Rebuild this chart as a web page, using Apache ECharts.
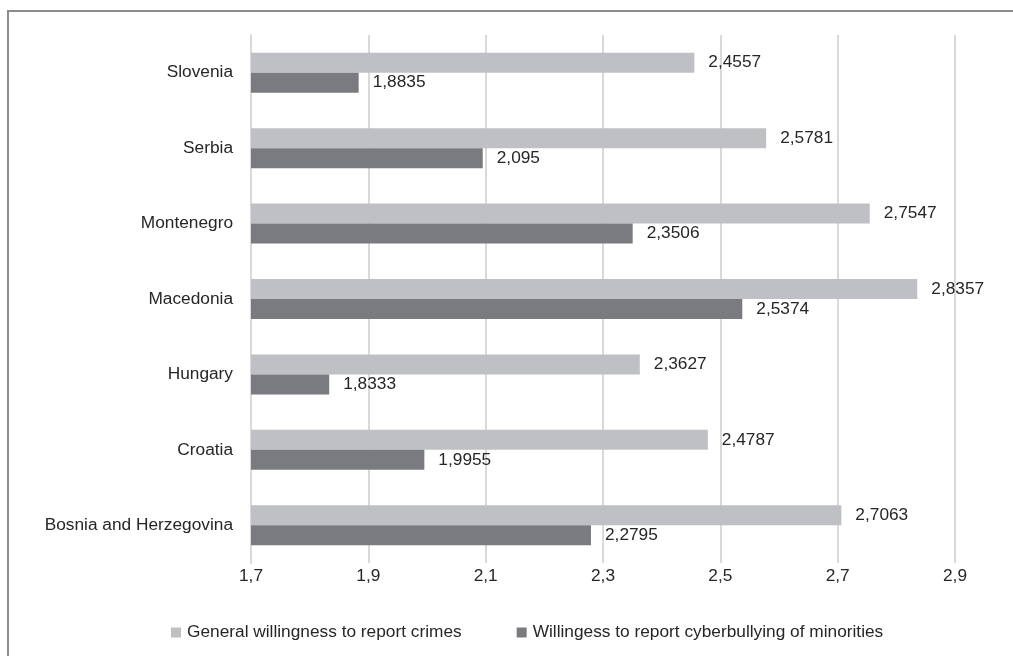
<!DOCTYPE html>
<html>
<head>
<meta charset="utf-8">
<script src="https://cdn.jsdelivr.net/npm/echarts@6/dist/echarts.min.js"></script>
<style>
  html, body { margin: 0; padding: 0; background: #fff; }
  #chart { width: 1013px; height: 656px; }
</style>
</head>
<body>
<div id="chart"></div>
<script>
// Countries, bottom to top on the category axis
const countries = ['Bosnia and Herzegovina', 'Croatia', 'Hungary', 'Macedonia', 'Montenegro', 'Serbia', 'Slovenia'];
const generalWillingness = [2.7063, 2.4787, 2.3627, 2.8357, 2.7547, 2.5781, 2.4557];
const cyberbullyingWillingness = [2.2795, 1.9955, 1.8333, 2.5374, 2.3506, 2.095, 1.8835];
const seriesNames = ['General willingness to report crimes', 'Willingess to report cyberbullying of minorities'];
const axisMin = 1.7, axisMax = 2.9, axisStep = 0.2;

const FONT = '"Liberation Sans", Arial, sans-serif';
const FS = 17.3;
const TXT = '#262626';
const comma = v => String(v).replace('.', ',');

const chart = echarts.init(document.getElementById('chart'), null, { renderer: 'canvas' });

chart.setOption({
  animation: false,
  backgroundColor: '#ffffff',
  textStyle: { fontFamily: FONT },
  graphic: [{
    type: 'rect',
    shape: { x: 8, y: 11, width: 1100, height: 700 },
    style: { fill: 'none', stroke: '#8c8c8c', lineWidth: 2 },
    silent: true
  }],
  grid: { left: 251, right: 58, top: 35, bottom: 93 },
  legend: {
    bottom: 10,
    left: 166,
    itemWidth: 10,
    itemHeight: 10,
    itemGap: 55,
    icon: 'rect',
    textStyle: { fontFamily: FONT, fontSize: FS, color: TXT, padding: [0, 0, 0, 1] },
    data: seriesNames
  },
  xAxis: {
    type: 'value',
    min: axisMin,
    max: axisMax,
    interval: axisStep,
    axisLine: { show: false },
    axisTick: { show: false },
    splitLine: { show: true, lineStyle: { color: '#d9d9d9', width: 2 } },
    axisLabel: {
      fontFamily: FONT, fontSize: FS, color: TXT, margin: 5,
      formatter: v => comma(Math.round(v * 10) / 10)
    }
  },
  yAxis: {
    type: 'category',
    data: countries,
    axisLine: { show: true, lineStyle: { color: '#d9d9d9', width: 2 } },
    axisTick: { show: false },
    axisLabel: { fontFamily: FONT, fontSize: FS, color: TXT, margin: 18 }
  },
  series: [
    {
      name: seriesNames[0],
      type: 'bar',
      data: generalWillingness,
      barWidth: 20,
      barGap: '0%',
      itemStyle: { color: '#bfc0c4' },
      label: {
        show: true, position: 'right', distance: 14,
        fontFamily: FONT, fontSize: FS, color: TXT,
        formatter: p => comma(p.value)
      }
    },
    {
      name: seriesNames[1],
      type: 'bar',
      data: cyberbullyingWillingness,
      barWidth: 20,
      barGap: '0%',
      itemStyle: { color: '#7a7b7f' },
      label: {
        show: true, position: 'right', distance: 14,
        fontFamily: FONT, fontSize: FS, color: TXT,
        formatter: p => comma(p.value)
      }
    }
  ]
});
</script>
</body>
</html>
